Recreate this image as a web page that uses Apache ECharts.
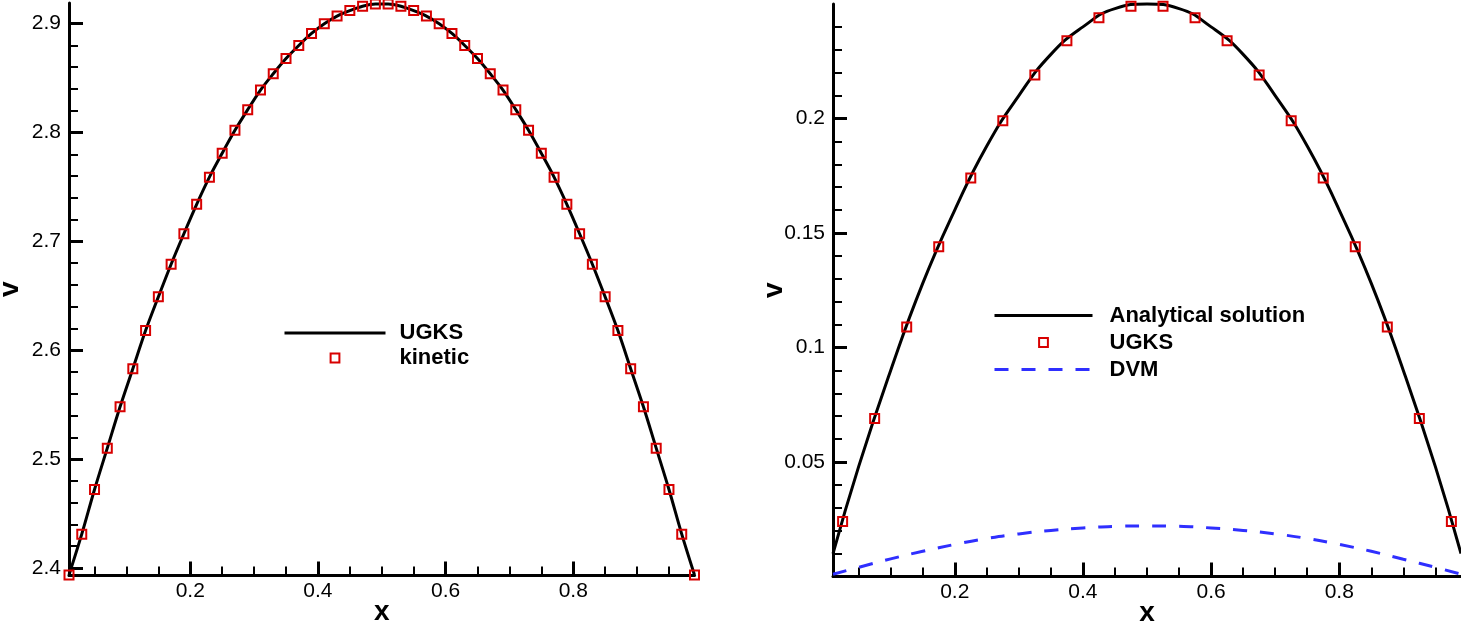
<!DOCTYPE html>
<html>
<head>
<meta charset="utf-8">
<script src="https://cdn.jsdelivr.net/npm/echarts@6/dist/echarts.min.js"></script>
<style>html,body{margin:0;padding:0;background:#fff}#c{width:1461px;height:624px}</style>
</head>
<body>
<div id="c"></div>
<script>
// ---------------- data ----------------
// Left panel: x positions of the "kinetic" markers and the UGKS line
const leftX = [0.01,0.03,0.05,0.07,0.09,0.11,0.13,0.15,0.17,0.19,0.21,0.23,0.25,0.27,0.29,0.31,0.33,0.35,0.37,0.39,0.41,0.43,0.45,0.47,0.49,
               0.51,0.53,0.55,0.57,0.59,0.61,0.63,0.65,0.67,0.69,0.71,0.73,0.75,0.77,0.79,0.81,0.83,0.85,0.87,0.89,0.91,0.93,0.95,0.97,0.99];
const leftKinetic = [2.3935,2.431,2.472,2.510,2.548,2.583,2.618,2.649,2.679,2.707,2.734,2.759,2.781,2.802,2.821,2.839,2.854,2.868,2.880,2.891,2.900,2.907,2.912,2.916,2.918,
                     2.918,2.916,2.912,2.907,2.900,2.891,2.880,2.868,2.854,2.839,2.821,2.802,2.781,2.759,2.734,2.707,2.679,2.649,2.618,2.583,2.548,2.510,2.472,2.431,2.3935];
const leftUGKS = [2.3935,2.431,2.472,2.510,2.548,2.583,2.618,2.649,2.679,2.707,2.734,2.759,2.781,2.802,2.821,2.839,2.854,2.868,2.880,2.891,2.900,2.907,2.912,2.916,2.918,
                  2.918,2.916,2.912,2.907,2.900,2.891,2.880,2.868,2.854,2.839,2.821,2.802,2.781,2.759,2.734,2.707,2.679,2.649,2.618,2.583,2.548,2.510,2.472,2.431,2.3935];

// Right panel
const rightMarkX = [0.025,0.075,0.125,0.175,0.225,0.275,0.325,0.375,0.425,0.475,0.525,0.575,0.625,0.675,0.725,0.775,0.825,0.875,0.925,0.975];
const rightUGKS  = [0.024,0.069,0.109,0.144,0.174,0.199,0.219,0.234,0.244,0.249,0.249,0.244,0.234,0.219,0.199,0.174,0.144,0.109,0.069,0.024];
const rightLineX = [0.01,0.05,0.1,0.15,0.2,0.25,0.3,0.35,0.4,0.45,0.5,0.55,0.6,0.65,0.7,0.75,0.8,0.85,0.9,0.95,0.99];
const rightAnalytical = [0.010,0.048,0.090,0.128,0.160,0.188,0.210,0.228,0.240,0.248,0.250,0.248,0.240,0.228,0.210,0.188,0.160,0.128,0.090,0.048,0.010];
const rightDVM = [0.001,0.004,0.0077,0.011,0.014,0.0166,0.0186,0.0201,0.0212,0.0219,0.0221,0.0219,0.0212,0.0201,0.0186,0.0166,0.014,0.011,0.0075,0.004,0.001];

// Tick values
const leftXMajor  = [0.2,0.4,0.6,0.8];
const leftYMajor  = [2.4,2.5,2.6,2.7,2.8,2.9];
const rightXMajor = [0.2,0.4,0.6,0.8];
const rightYMajor = [0,0.05,0.1,0.15,0.2];
const rightYLabels = [0.05,0.1,0.15,0.2];

// minor tick helper (axis decoration only)
function minorTicks(lo, hi, step, majors) {
  const out = [];
  const n = Math.round((hi - lo) / step);
  for (let i = 0; i <= n; i++) {
    const v = +(lo + i * step).toFixed(6);
    if (!majors.some(m => Math.abs(m - v) < 1e-9)) out.push(v);
  }
  return out;
}
const leftXMinor  = minorTicks(0.05, 0.95, 0.05, leftXMajor);
const leftYMinor  = minorTicks(2.42, 2.90, 0.02, leftYMajor);
const rightXMinor = minorTicks(0.05, 0.95, 0.05, rightXMajor);
const rightYMinor = minorTicks(0.01, 0.24, 0.01, rightYMajor);

// ---------------- chart ----------------
const FONT = '"Liberation Sans", Arial, Helvetica, sans-serif';
const fmt = v => String(parseFloat((+v).toFixed(4)));

function axes(dim, gridIndex, min, max, major, labels, minor, name) {
  const isX = dim === 'x';
  const base = {
    type: 'value', gridIndex, min, max,
    position: isX ? 'bottom' : 'left',
    splitLine: { show: false },
    nameMoveOverlap: false
  };
  const majorAxis = Object.assign({}, base, {
    axisLine: { show: true, onZero: false, lineStyle: { color: '#000', width: 3 } },
    axisTick: { show: true, inside: true, length: 14, customValues: major, lineStyle: { color: '#000', width: 3 } },
    axisLabel: { show: true, customValues: labels, margin: isX ? 5 : 8, color: '#000', fontSize: 21, fontFamily: FONT, formatter: fmt },
    name: name, nameLocation: 'middle', nameGap: isX ? 23 : 45, nameRotate: isX ? 0 : 90,
    nameTextStyle: { color: '#000', fontSize: 28, fontWeight: 'bold', fontFamily: FONT }
  });
  const minorAxis = Object.assign({}, base, {
    axisLine: { show: false, onZero: false },
    axisTick: { show: true, inside: true, length: 9, customValues: minor, lineStyle: { color: '#000', width: 2 } },
    axisLabel: { show: false }
  });
  return [majorAxis, minorAxis];
}

const zip = (xs, ys) => xs.map((x, i) => [x, ys[i]]);
const RED = '#d80000';
const legendText = pad => ({ fontSize: 22, fontWeight: 'bold', fontFamily: FONT, color: '#000', lineHeight: 24, padding: [0, 0, 0, pad] });

const option = {
  animation: false,
  backgroundColor: '#fff',
  grid: [
    { left: 69, top: 3, width: 625.5, height: 572.5, outerBoundsMode: 'none', containLabel: false },
    { left: 833, top: 4, width: 628, height: 572.5, outerBoundsMode: 'none', containLabel: false }
  ],
  xAxis: [
    ...axes('x', 0, 0.01, 0.99, leftXMajor, leftXMajor, leftXMinor, 'x'),
    ...axes('x', 1, 0.01, 0.99, rightXMajor, rightXMajor, rightXMinor, 'x')
  ],
  yAxis: [
    ...axes('y', 0, 2.393, 2.919, leftYMajor, leftYMajor, leftYMinor, 'v'),
    ...axes('y', 1, 0, 0.25, rightYMajor, rightYLabels, rightYMinor, 'v')
  ],
  legend: [
    {
      data: [{ name: 'UGKS', lineStyle: { width: 3 } }, { name: 'kinetic' }],
      left: 283, top: 321, orient: 'vertical', padding: 0,
      itemWidth: 101, itemHeight: 11, itemGap: 1, selectedMode: false,
      textStyle: legendText(9)
    },
    {
      data: [{ name: 'Analytical solution', lineStyle: { width: 3 } }, { name: 'UGKS ' }, { name: 'DVM', lineStyle: { width: 3 } }],
      left: 993, top: 303.5, orient: 'vertical', padding: 0,
      itemWidth: 98, itemHeight: 11, itemGap: 3, selectedMode: false,
      textStyle: legendText(12)
    }
  ],
  series: [
    {
      name: 'UGKS', type: 'line', xAxisIndex: 0, yAxisIndex: 0, clip: false,
      data: zip(leftX, leftUGKS), symbol: 'none', smooth: 0.3,
      itemStyle: { color: 'rgba(0,0,0,0)' },
      lineStyle: { color: '#000', width: 3 }, z: 2
    },
    {
      name: 'kinetic', type: 'line', xAxisIndex: 0, yAxisIndex: 0, clip: false,
      data: zip(leftX, leftKinetic), symbol: 'rect', symbolSize: 9, showSymbol: true,
      itemStyle: { color: 'rgba(0,0,0,0)', borderColor: RED, borderWidth: 2 },
      lineStyle: { width: 0, opacity: 0 }, z: 5
    },
    {
      name: 'Analytical solution', type: 'line', xAxisIndex: 2, yAxisIndex: 2, clip: false,
      data: zip(rightLineX, rightAnalytical), symbol: 'none', smooth: true,
      itemStyle: { color: 'rgba(0,0,0,0)' },
      lineStyle: { color: '#000', width: 3 }, z: 2
    },
    {
      name: 'UGKS ', type: 'line', xAxisIndex: 2, yAxisIndex: 2, clip: false,
      data: zip(rightMarkX, rightUGKS), symbol: 'rect', symbolSize: 9, showSymbol: true,
      itemStyle: { color: 'rgba(0,0,0,0)', borderColor: RED, borderWidth: 2 },
      lineStyle: { width: 0, opacity: 0 }, z: 5
    },
    {
      name: 'DVM', type: 'line', xAxisIndex: 2, yAxisIndex: 2, clip: false,
      data: zip(rightLineX, rightDVM), symbol: 'none', smooth: true,
      itemStyle: { color: 'rgba(0,0,0,0)' },
      lineStyle: { color: '#2f2fff', width: 3, type: [14, 13] }, z: 3
    }
  ]
};

const chart = echarts.init(document.getElementById('c'), null, { renderer: 'canvas' });
chart.setOption(option);
</script>
</body>
</html>
